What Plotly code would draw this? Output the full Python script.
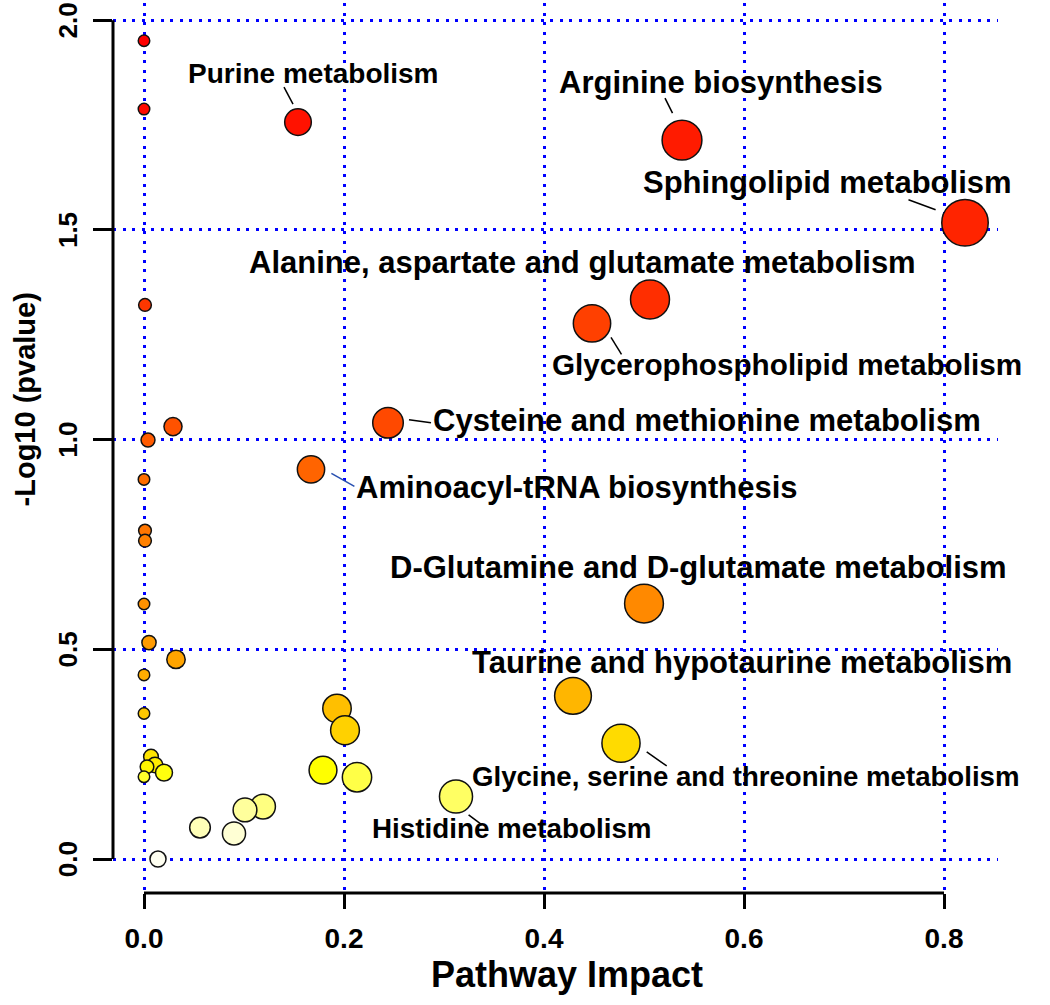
import colorsys
import numpy as np
import plotly.graph_objects as go

# pathway impact (x) and -log10(p) (y), sorted by p-value as in the source plot
impact = [0.000, 0.000, 0.154, 0.538, 0.821, 0.506, 0.001, 0.448, 0.244, 0.029,
          0.004, 0.167, 0.000, 0.001, 0.001, 0.500, 0.000, 0.005, 0.032, 0.000,
          0.429, 0.193, 0.000, 0.201, 0.477, 0.007, 0.011, 0.003, 0.179, 0.020,
          0.000, 0.213, 0.312, 0.119, 0.101, 0.056, 0.090, 0.014]
neg_log10_p = [1.951, 1.788, 1.757, 1.714, 1.517, 1.334, 1.321, 1.277, 1.040, 1.031,
               0.999, 0.929, 0.905, 0.783, 0.759, 0.609, 0.608, 0.516, 0.476, 0.439,
               0.389, 0.359, 0.347, 0.307, 0.276, 0.244, 0.224, 0.220, 0.212, 0.206,
               0.196, 0.195, 0.149, 0.125, 0.117, 0.075, 0.061, 0.000]
pathway = ["", "", "Purine metabolism", "Arginine biosynthesis",
           "Sphingolipid metabolism", "Alanine, aspartate and glutamate metabolism",
           "", "Glycerophospholipid metabolism", "Cysteine and methionine metabolism",
           "", "", "Aminoacyl-tRNA biosynthesis", "", "", "",
           "D-Glutamine and D-glutamate metabolism", "", "", "", "",
           "Taurine and hypotaurine metabolism", "", "", "",
           "Glycine, serine and threonine metabolism", "", "", "", "", "", "", "",
           "Histidine metabolism", "", "", "", "", ""]

x_ticks = [0.0, 0.2, 0.4, 0.6, 0.8]
y_ticks = [0.0, 0.5, 1.0, 1.5, 2.0]

# label placement: text offset (px), leader segment (px) relative to the point, font size
label_pos = {
    "Purine metabolism": (15, 49, (-14, 35, -5, 18), 28),
    "Arginine biosynthesis": (39, 58, (-17, 42, -9.5, 27), 31),
    "Sphingolipid metabolism": (-138, 40, (-56.5, 23, -29.4, 13), 31),
    "Alanine, aspartate and glutamate metabolism": (-68, 37, None, 31),
    "Glycerophospholipid metabolism": (195, -41, (19, -14, 29.5, -31), 29.7),
    "Cysteine and methionine metabolism": (319, 2, (21, 3, 43, 0), 31),
    "Aminoacyl-tRNA biosynthesis": (266, -18, (20.4, -4, 43.4, -17), 31),
    "D-Glutamine and D-glutamate metabolism": (54, 36, None, 31),
    "Taurine and hypotaurine metabolism": (169, 33, None, 31),
    "Glycine, serine and threonine metabolism": (124, -33, (25.7, -8.7, 45.7, -22.7), 27.6),
    "Histidine metabolism": (56, -32, (12.6, -18.3, 26, -28.3), 27.8),
}


def heat_colors(n):
    # same scheme as R's heat.colors()
    j = n // 4
    i = n - j
    out = []
    for h in np.linspace(0, 1 / 6, i):
        out.append(colorsys.hsv_to_rgb(h, 1, 1))
    if j > 0:
        for s in np.linspace(1 - 1 / (2 * j), 1 / (2 * j), j):
            out.append(colorsys.hsv_to_rgb(1 / 6, s, 1))
    return ["#%02X%02X%02X" % (round(r * 255), round(g * 255), round(b * 255)) for r, g, b in out]


colors = heat_colors(len(impact))
sizes = [13 + 38.6 * np.sqrt(v) - 1.5 for v in impact]

FONT = "Liberation Sans, Arial, sans-serif"

fig = go.Figure()
fig.add_trace(go.Scatter(
    x=impact, y=neg_log10_p, mode="markers",
    marker=dict(size=sizes, color=colors, opacity=1,
                line=dict(color="#111111", width=1.5)),
    hovertext=pathway, showlegend=False,
))

annotations = []
shapes = []
for xv, yv, name in zip(impact, neg_log10_p, pathway):
    if not name:
        continue
    dx, dy, seg, fs = label_pos[name]
    annotations.append(dict(
        x=xv, y=yv, xref="x", yref="y", text=name, showarrow=False,
        xshift=dx, yshift=dy, xanchor="center", yanchor="middle",
        font=dict(family=FONT, size=fs, color="black", weight="bold"),
    ))
    if seg:
        lc = "#2850b0" if name.startswith("Aminoacyl") else "black"
        shapes.append(dict(
            type="line", xref="x", yref="y", xsizemode="pixel", ysizemode="pixel",
            xanchor=xv, yanchor=yv, x0=seg[0], y0=seg[1], x1=seg[2], y1=seg[3],
            line=dict(color=lc, width=1.5),
        ))

# R-style axis lines that stop at the outer ticks
shapes.append(dict(type="line", xref="paper", yref="y", x0=0, x1=0, y0=0, y1=2,
                   line=dict(color="black", width=3)))
shapes.append(dict(type="line", xref="x", yref="paper", x0=0, x1=0.8, y0=0, y1=0,
                   line=dict(color="black", width=3)))

annotations.append(dict(
    x=0.513, y=-0.092, xref="paper", yref="paper", text="Pathway Impact",
    showarrow=False, xanchor="center", yanchor="middle",
    font=dict(family=FONT, size=36, color="black", weight="bold"),
))
annotations.append(dict(
    x=-0.1, y=0.554, xref="paper", yref="paper", text="-Log10 (pvalue)",
    showarrow=False, xanchor="center", yanchor="middle", textangle=-90,
    font=dict(family=FONT, size=29, color="black", weight="bold"),
))

grid = dict(showgrid=True, gridcolor="#0000FF", gridwidth=2.5, griddash="3px,6.5px",
            zeroline=False, showline=False, ticks="outside", tickcolor="black",
            tickwidth=2.5, automargin=False, ticklabeloverflow="allow")

fig.update_layout(
    width=1050, height=1005,
    margin=dict(l=113, r=52, t=3, b=112),
    paper_bgcolor="white", plot_bgcolor="white",
    xaxis=dict(range=[-0.031, 0.854], tickvals=x_ticks,
               ticktext=["%.1f" % v for v in x_ticks], ticklen=15,
               ticklabelstandoff=5,
               tickfont=dict(family=FONT, size=28, color="black", weight="bold"),
               **grid),
    yaxis=dict(range=[-0.081, 2.041], tickvals=y_ticks,
               ticktext=["%.1f" % v for v in y_ticks], ticklen=19, tickangle=-90,
               ticklabelstandoff=6, ticklabelshift=4,
               tickfont=dict(family=FONT, size=26, color="black", weight="bold"),
               **grid),
    annotations=annotations, shapes=shapes,
)

fig.write_html("out.html", config={"displayModeBar": False},
               post_script="document.body.style.margin='0';")
